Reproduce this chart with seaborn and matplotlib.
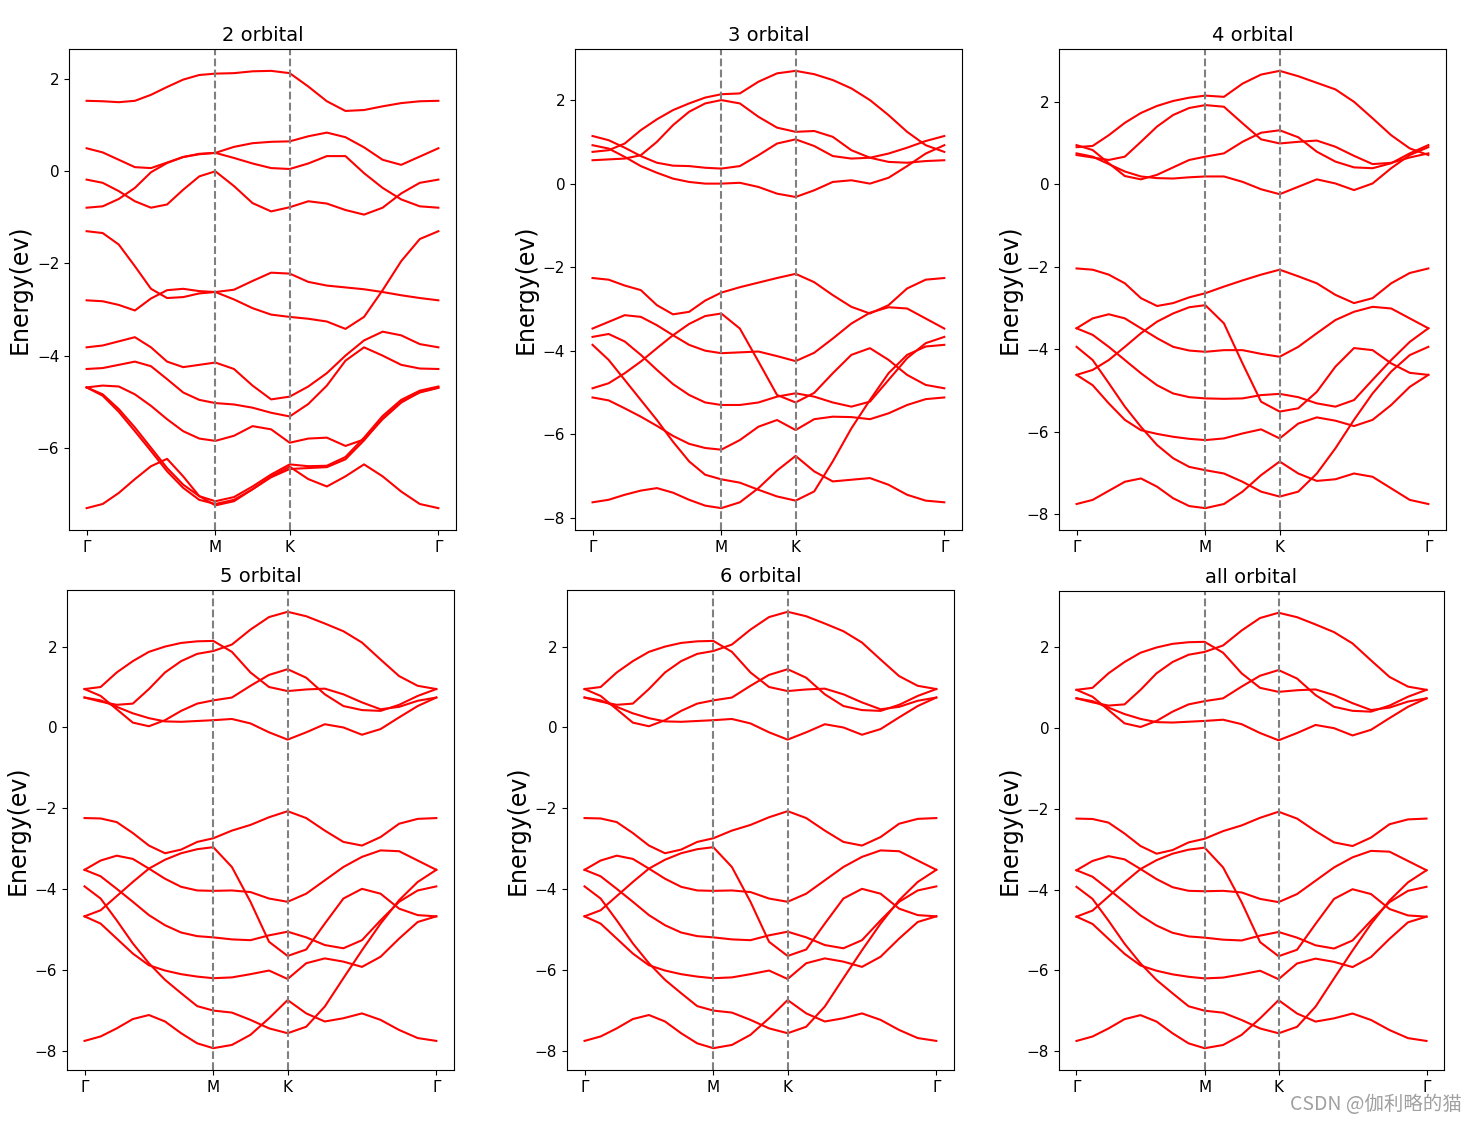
import numpy as np
import pandas as pd
import matplotlib
matplotlib.use('Agg')
import matplotlib.pyplot as plt
import seaborn as sns

# camino de alta simetria G-M-K-G (unidades de 2pi/a)
kM = 1 / np.sqrt(3)
kK = kM + 1 / 3
kG = kK + 2 / 3
k_path = np.concatenate([np.linspace(0, kM, 9),
                         np.linspace(kM, kK, 5)[1:],
                         np.linspace(kK, kG, 9)[1:]])
etiquetas_k = ['Γ', 'M', 'K', 'Γ']

titulos = ['2 orbital', '3 orbital', '4 orbital', '5 orbital', '6 orbital', 'all orbital']

# energias (eV), una lista por banda
bandas_2orb = [
    [1.53, 1.52, 1.50, 1.53, 1.66, 1.83, 1.99, 2.09, 2.12, 2.13, 2.17, 2.18, 2.13, 1.84, 1.52, 1.31, 1.33, 1.41, 1.48, 1.52, 1.53],
    [0.50, 0.41, 0.25, 0.09, 0.07, 0.19, 0.31, 0.37, 0.40, 0.53, 0.61, 0.64, 0.65, 0.76, 0.84, 0.74, 0.52, 0.25, 0.14, 0.32, 0.50],
    [-0.79, -0.76, -0.60, -0.36, -0.02, 0.18, 0.31, 0.38, 0.40, 0.29, 0.17, 0.07, 0.05, 0.17, 0.33, 0.33, -0.04, -0.36, -0.61, -0.76, -0.79],
    [-0.18, -0.25, -0.43, -0.65, -0.79, -0.72, -0.40, -0.11, 0.0, -0.32, -0.69, -0.87, -0.78, -0.65, -0.70, -0.84, -0.94, -0.79, -0.48, -0.25, -0.18],
    [-1.30, -1.34, -1.59, -2.06, -2.55, -2.75, -2.73, -2.65, -2.62, -2.57, -2.38, -2.20, -2.22, -2.40, -2.48, -2.52, -2.56, -2.62, -2.69, -2.75, -2.80],
    [-2.80, -2.82, -2.90, -3.02, -2.76, -2.58, -2.55, -2.60, -2.62, -2.78, -2.97, -3.11, -3.16, -3.20, -3.26, -3.42, -3.16, -2.58, -1.95, -1.47, -1.30],
    [-3.82, -3.78, -3.69, -3.60, -3.82, -4.13, -4.25, -4.20, -4.15, -4.29, -4.65, -4.95, -4.89, -4.67, -4.38, -4.00, -3.67, -3.48, -3.56, -3.75, -3.82],
    [-4.29, -4.27, -4.20, -4.13, -4.23, -4.51, -4.80, -4.96, -5.03, -5.06, -5.13, -5.24, -5.32, -5.05, -4.65, -4.11, -3.82, -4.00, -4.20, -4.28, -4.29],
    [-4.69, -4.65, -4.67, -4.84, -5.09, -5.38, -5.64, -5.80, -5.85, -5.74, -5.53, -5.60, -5.89, -5.80, -5.78, -5.96, -5.82, -5.38, -5.02, -4.79, -4.69],
    [-4.69, -4.84, -5.16, -5.56, -6.00, -6.44, -6.80, -7.05, -7.16, -7.07, -6.84, -6.58, -6.36, -6.40, -6.39, -6.20, -5.78, -5.31, -4.96, -4.76, -4.67],
    [-4.69, -4.87, -5.22, -5.64, -6.07, -6.51, -6.87, -7.13, -7.22, -7.13, -6.90, -6.64, -6.46, -6.44, -6.42, -6.25, -5.84, -5.36, -5.00, -4.80, -4.70],
    [-7.31, -7.22, -6.98, -6.68, -6.40, -6.24, -6.62, -7.05, -7.25, -7.16, -6.90, -6.62, -6.41, -6.68, -6.84, -6.62, -6.36, -6.62, -6.95, -7.22, -7.31],
]

bandas_3orb = [
    [0.76, 0.80, 0.96, 1.28, 1.54, 1.76, 1.92, 2.06, 2.14, 2.16, 2.44, 2.64, 2.70, 2.62, 2.48, 2.28, 2.00, 1.64, 1.24, 0.92, 0.76],
    [0.56, 0.58, 0.60, 0.68, 1.00, 1.40, 1.72, 1.92, 2.00, 1.92, 1.60, 1.34, 1.24, 1.26, 1.12, 0.80, 0.62, 0.52, 0.50, 0.54, 0.56],
    [1.14, 1.04, 0.86, 0.66, 0.50, 0.43, 0.42, 0.38, 0.36, 0.42, 0.68, 0.96, 1.06, 0.90, 0.66, 0.60, 0.62, 0.72, 0.86, 1.02, 1.14],
    [0.92, 0.84, 0.64, 0.42, 0.26, 0.12, 0.04, 0.00, 0.00, 0.02, -0.08, -0.24, -0.32, -0.16, 0.04, 0.08, 0.00, 0.14, 0.42, 0.72, 0.92],
    [-2.26, -2.30, -2.44, -2.55, -2.91, -3.13, -3.07, -2.80, -2.61, -2.48, -2.37, -2.26, -2.16, -2.36, -2.67, -2.95, -3.11, -2.91, -2.51, -2.30, -2.26],
    [-4.90, -4.78, -4.54, -4.26, -3.94, -3.63, -3.36, -3.17, -3.11, -3.47, -4.26, -5.06, -5.24, -5.01, -4.54, -4.10, -3.94, -4.22, -4.58, -4.82, -4.90],
    [-3.47, -3.31, -3.15, -3.19, -3.39, -3.63, -3.86, -4.00, -4.06, -4.04, -4.02, -4.13, -4.25, -4.05, -3.71, -3.35, -3.09, -2.96, -2.99, -3.23, -3.47],
    [-3.67, -3.60, -3.78, -4.10, -4.46, -4.80, -5.06, -5.24, -5.30, -5.30, -5.24, -5.10, -5.02, -5.10, -5.24, -5.34, -5.22, -4.70, -4.18, -3.82, -3.67],
    [-5.12, -5.19, -5.38, -5.58, -5.80, -6.04, -6.23, -6.33, -6.37, -6.14, -5.82, -5.66, -5.90, -5.64, -5.58, -5.59, -5.64, -5.50, -5.30, -5.16, -5.12],
    [-3.86, -4.22, -4.70, -5.18, -5.66, -6.18, -6.65, -6.97, -7.08, -7.16, -7.33, -7.49, -7.59, -7.37, -6.65, -5.86, -5.18, -4.54, -4.10, -3.90, -3.86],
    [-7.63, -7.57, -7.45, -7.35, -7.29, -7.40, -7.57, -7.71, -7.77, -7.63, -7.29, -6.87, -6.52, -6.89, -7.13, -7.09, -7.05, -7.21, -7.45, -7.59, -7.63],
]

bandas_4orb = [
    [0.90, 0.93, 1.19, 1.49, 1.73, 1.90, 2.02, 2.10, 2.15, 2.12, 2.44, 2.66, 2.75, 2.62, 2.46, 2.30, 2.00, 1.60, 1.19, 0.87, 0.71],
    [0.71, 0.65, 0.59, 0.67, 1.03, 1.40, 1.68, 1.85, 1.92, 1.88, 1.48, 1.09, 0.99, 1.03, 1.06, 0.91, 0.69, 0.49, 0.52, 0.65, 0.75],
    [0.95, 0.83, 0.51, 0.20, 0.12, 0.23, 0.41, 0.59, 0.67, 0.75, 1.03, 1.25, 1.31, 1.14, 0.79, 0.55, 0.41, 0.39, 0.51, 0.75, 0.95],
    [0.75, 0.67, 0.49, 0.31, 0.19, 0.15, 0.14, 0.17, 0.19, 0.19, 0.06, -0.12, -0.24, -0.06, 0.12, 0.02, -0.14, 0.02, 0.39, 0.71, 0.90],
    [-2.04, -2.07, -2.19, -2.40, -2.76, -2.95, -2.88, -2.74, -2.64, -2.48, -2.33, -2.19, -2.07, -2.23, -2.40, -2.68, -2.88, -2.76, -2.40, -2.15, -2.04],
    [-4.62, -4.50, -4.26, -3.94, -3.61, -3.33, -3.13, -2.98, -2.93, -3.37, -4.34, -5.27, -5.51, -5.43, -5.03, -4.42, -3.97, -4.02, -4.34, -4.57, -4.62],
    [-3.49, -3.25, -3.15, -3.25, -3.49, -3.73, -3.94, -4.03, -4.06, -4.02, -4.02, -4.11, -4.18, -3.94, -3.61, -3.29, -3.09, -2.97, -3.01, -3.25, -3.49],
    [-3.49, -3.65, -3.94, -4.26, -4.58, -4.87, -5.07, -5.16, -5.19, -5.20, -5.19, -5.11, -5.08, -5.16, -5.31, -5.39, -5.23, -4.74, -4.26, -3.82, -3.49],
    [-4.62, -4.87, -5.31, -5.71, -5.96, -6.05, -6.12, -6.17, -6.20, -6.16, -6.04, -5.94, -6.16, -5.80, -5.65, -5.73, -5.86, -5.71, -5.35, -4.91, -4.62],
    [-3.94, -4.26, -4.82, -5.39, -5.88, -6.32, -6.64, -6.85, -6.93, -7.01, -7.21, -7.45, -7.57, -7.45, -7.01, -6.40, -5.71, -5.07, -4.54, -4.14, -3.94],
    [-7.75, -7.65, -7.43, -7.21, -7.13, -7.33, -7.61, -7.80, -7.85, -7.75, -7.45, -7.05, -6.72, -7.01, -7.19, -7.15, -7.01, -7.09, -7.37, -7.65, -7.75],
]

# 5, 6 y todos los orbitales dan practicamente las mismas bandas
bandas_5orb = [
    [0.95, 1.00, 1.36, 1.64, 1.87, 2.00, 2.09, 2.13, 2.14, 1.87, 1.36, 1.00, 0.90, 0.94, 0.96, 0.82, 0.62, 0.45, 0.51, 0.66, 0.74],
    [0.74, 0.64, 0.56, 0.59, 0.95, 1.36, 1.64, 1.82, 1.89, 2.05, 2.42, 2.73, 2.86, 2.75, 2.57, 2.38, 2.10, 1.68, 1.27, 1.03, 0.95],
    [0.95, 0.78, 0.45, 0.12, 0.03, 0.18, 0.41, 0.59, 0.67, 0.74, 1.03, 1.30, 1.44, 1.23, 0.82, 0.53, 0.43, 0.41, 0.56, 0.78, 0.95],
    [0.74, 0.67, 0.51, 0.35, 0.23, 0.15, 0.14, 0.16, 0.18, 0.21, 0.10, -0.12, -0.30, -0.12, 0.08, 0.00, -0.18, -0.04, 0.25, 0.53, 0.74],
    [-2.24, -2.25, -2.34, -2.61, -2.92, -3.11, -3.02, -2.83, -2.74, -2.55, -2.41, -2.22, -2.07, -2.24, -2.55, -2.83, -2.92, -2.71, -2.38, -2.26, -2.24],
    [-4.67, -4.52, -4.17, -3.82, -3.49, -3.27, -3.11, -3.01, -2.96, -3.45, -4.31, -5.30, -5.65, -5.49, -4.85, -4.23, -3.99, -4.11, -4.48, -4.64, -4.67],
    [-3.52, -3.29, -3.17, -3.25, -3.49, -3.74, -3.94, -4.03, -4.04, -4.03, -4.07, -4.23, -4.31, -4.11, -3.78, -3.45, -3.20, -3.04, -3.06, -3.29, -3.52],
    [-3.52, -3.68, -3.99, -4.31, -4.64, -4.89, -5.07, -5.16, -5.19, -5.24, -5.26, -5.14, -5.05, -5.19, -5.38, -5.46, -5.26, -4.77, -4.31, -4.03, -3.93],
    [-4.67, -4.85, -5.22, -5.59, -5.88, -6.01, -6.10, -6.16, -6.20, -6.18, -6.10, -6.01, -6.22, -5.83, -5.71, -5.79, -5.92, -5.67, -5.22, -4.81, -4.67],
    [-3.93, -4.23, -4.77, -5.34, -5.83, -6.24, -6.57, -6.89, -7.00, -7.05, -7.23, -7.44, -7.56, -7.40, -6.90, -6.20, -5.51, -4.85, -4.27, -3.82, -3.52],
    [-7.75, -7.64, -7.44, -7.21, -7.11, -7.27, -7.56, -7.81, -7.93, -7.85, -7.60, -7.19, -6.74, -7.07, -7.27, -7.19, -7.07, -7.23, -7.48, -7.68, -7.75],
]
bandas_6orb = bandas_5orb
bandas_todos = bandas_5orb

todas_bandas = [bandas_2orb, bandas_3orb, bandas_4orb, bandas_5orb, bandas_6orb, bandas_todos]

# posiciones de los ejes en fraccion de figura
posiciones = [
    [0.0467, 0.5272, 0.2618, 0.4291],
    [0.3890, 0.5272, 0.2618, 0.4291],
    [0.7165, 0.5272, 0.2618, 0.4291],
    [0.0453, 0.0455, 0.2618, 0.4282],
    [0.3836, 0.0455, 0.2618, 0.4282],
    [0.7165, 0.0455, 0.2605, 0.4273],
]


def obtener_df(bandas):
    filas = []
    for i, banda in enumerate(bandas):
        for k, e in zip(k_path, banda):
            filas.append((i, k, e))
    return pd.DataFrame(filas, columns=['banda', 'k', 'E'])


plt.rcParams['xtick.labelsize'] = 11
plt.rcParams['ytick.labelsize'] = 11

fig = plt.figure(figsize=(14.78, 11.21), dpi=100)
for bandas, titulo, pos in zip(todas_bandas, titulos, posiciones):
    ax = fig.add_axes(pos)
    datos = obtener_df(bandas)
    sns.lineplot(data=datos, x='k', y='E', units='banda', estimator=None,
                 color='red', linewidth=1.5, ax=ax)
    ax.axvline(kM, color='gray', linestyle='--', linewidth=1.5)
    ax.axvline(kK, color='gray', linestyle='--', linewidth=1.5)
    ax.set_xticks([0, kM, kK, kG], etiquetas_k)
    ax.set_xlabel('')
    ax.set_ylabel('Energy(ev)', fontsize=17)
    ax.set_title(titulo, fontsize=14)

fig.text(0.989, 0.0098, 'CSDN @伽利略的猫', ha='right', va='baseline',
         color='#a0a0a0', fontsize=14, family=['Noto Sans CJK SC', 'DejaVu Sans'])

fig.savefig('out.png', dpi=100)
